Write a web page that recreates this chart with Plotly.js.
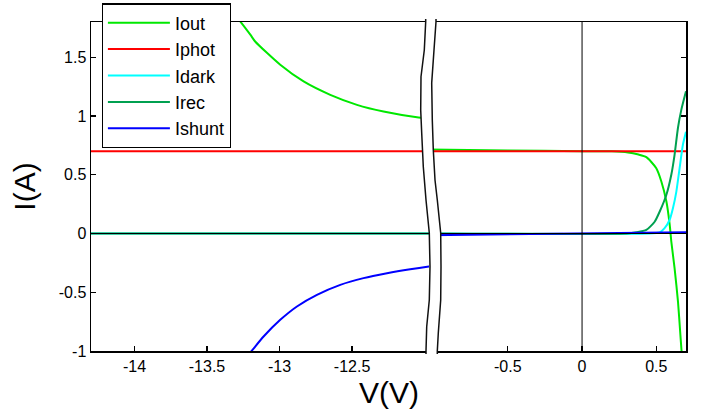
<!DOCTYPE html>
<html>
<head>
<meta charset="utf-8">
<script src="https://cdn.plot.ly/plotly-3.0.1.min.js"></script>
<style>html,body{margin:0;padding:0;background:#fff;}#chart{width:704px;height:413px;}</style>
</head>
<body>
<div id="chart"></div>
<script>
// ---- data ----
// left panel: strongly reverse-biased region
const vL_flat   = [-14.3, -11.93];
const iphotL    = [0.7, 0.7];
const idarkL    = [0, 0];
const irecL     = [0, 0];
const vL_out    = [-13.28, -13.20, -13.168, -12.995, -12.834, -12.650, -12.466, -12.283, -12.041, -11.93];
const ioutL     = [1.82, 1.69, 1.634, 1.436, 1.294, 1.180, 1.095, 1.038, 0.987, 0.975];
const vL_shunt  = [-13.23, -13.20, -13.11, -12.995, -12.88, -12.742, -12.581, -12.421, -12.259, -12.099, -11.97, -11.93];
const ishuntL   = [-1.05, -1.01, -0.877, -0.735, -0.621, -0.522, -0.437, -0.380, -0.338, -0.304, -0.281, -0.275];

// right panel: around the operating region
const vR_phot   = [-1.03, 0.7];
const iphotR    = [0.7, 0.7];
const vR_out    = [-1.03, -0.5, 0, 0.2, 0.309, 0.38, 0.433, 0.50, 0.534, 0.568, 0.59, 0.601, 0.623, 0.646, 0.662, 0.67, 0.675];
const ioutR     = [0.715, 0.707, 0.70, 0.699, 0.69, 0.672, 0.650, 0.556, 0.443, 0.272, 0.077, -0.068, -0.295, -0.579, -0.86, -1.0, -1.08];
const vR_dark   = [-1.03, 0.45, 0.523, 0.556, 0.590, 0.612, 0.635, 0.657, 0.679, 0.70];
const idarkR    = [0, 0, 0.01, 0.045, 0.117, 0.215, 0.357, 0.556, 0.755, 0.865];
const vR_rec    = [-1.03, 0.30, 0.366, 0.433, 0.489, 0.523, 0.568, 0.601, 0.623, 0.646, 0.668, 0.70];
const irecR     = [0, 0, 0.01, 0.03, 0.10, 0.187, 0.33, 0.50, 0.67, 0.90, 1.05, 1.21];
const vR_shunt  = [-1.03, 0, 0.7];
const ishuntR   = [-0.015, 0, 0.01];

// tick labels
const yTicks    = [-1, -0.5, 0, 0.5, 1, 1.5];
const xTicksL   = [-14, -13.5, -13, -12.5];
const xTicksR   = [-0.5, 0, 0.5];

const names  = ['Iout', 'Iphot', 'Idark', 'Irec', 'Ishunt'];
const colors = {Iout:'#00e800', Iphot:'#ff0000', Idark:'#00ffff', Irec:'#00a050', Ishunt:'#0000ff'};

function tr(name, x, y, xa, ya, show) {
  return {type:'scatter', mode:'lines', name:name, x:x, y:y, xaxis:xa, yaxis:ya,
          legendgroup:name, showlegend:show,
          line:{color:colors[name], width:2, shape:(x.length > 3 ? 'spline' : 'linear'), smoothing:0.6},
          hoverinfo:'skip'};
}
const traces = [
  tr('Iout',   vL_out,   ioutL,   'x', 'y', true),
  tr('Iphot',  vL_flat,  iphotL,  'x', 'y', true),
  tr('Idark',  vL_flat,  idarkL,  'x', 'y', true),
  tr('Irec',   vL_flat,  irecL,   'x', 'y', true),
  tr('Ishunt', vL_shunt, ishuntL, 'x', 'y', true),
  tr('Iout',   vR_out,   ioutR,   'x2', 'y2', false),
  tr('Iphot',  vR_phot,  iphotR,  'x2', 'y2', false),
  tr('Idark',  vR_dark,  idarkR,  'x2', 'y2', false),
  tr('Irec',   vR_rec,   irecR,   'x2', 'y2', false),
  tr('Ishunt', vR_shunt, ishuntR, 'x2', 'y2', false)
];

// ---- layout ----
const M = {l:91, r:18, t:22, b:62, autoexpand:false};
const W = 704 - M.l - M.r, H = 413 - M.t - M.b;
const px = x => (x - M.l) / W;
const py = y => (413 - M.b - y) / H;

// wavy break lines (pixel positions of the decoration)
const breakLeft  = [[425.7,19],[425.7,21.7],[424.3,50],[421,76.7],[420.7,110],[421.7,133],[423.3,166.7],[426,200],[429.3,233],[430,266.7],[429.3,300],[426.7,326.7],[426,351],[426,354]];
const breakRight = [[436,19],[436,21.7],[434,50],[431.7,83],[432.3,120],[433.3,150],[435,180],[437.3,200],[440.7,233],[441,266.7],[440.7,300],[438.3,333],[437.3,351],[437.3,354]];
const toPath = pts => pts.map((p,i)=>(i?'L':'M')+px(p[0]).toFixed(5)+','+py(p[1]).toFixed(5)).join(' ');
const fillPath = toPath(breakLeft.concat(breakRight.slice().reverse())) + ' Z';

const axisFont = {family:'Liberation Sans, Arial, sans-serif', size:16, color:'#000'};
const titleFont = {family:'Liberation Sans, Arial, sans-serif', size:30, color:'#000'};

const layout = {
  width:704, height:413,
  margin:M,
  paper_bgcolor:'#fff', plot_bgcolor:'#fff',
  font:{family:'Liberation Sans, Arial, sans-serif', color:'#000'},
  showlegend:true,
  legend:{x:px(101.7), y:py(3.3), xanchor:'left', yanchor:'top', bgcolor:'#fff', bordercolor:'#000', borderwidth:1.2,
          font:{family:'Liberation Sans, Arial, sans-serif', size:18, color:'#000'}, itemwidth:62, traceorder:'normal'},
  xaxis:{domain:[0, px(434.7)], range:[-14.3, -11.93], anchor:'y', tickvals:xTicksL, ticktext:xTicksL.map(String),
         ticks:'inside', ticklen:5, tickwidth:1.2, tickcolor:'#000', showline:true, linecolor:'#000', linewidth:1.5, mirror:true,
         showgrid:false, zeroline:false, tickfont:axisFont, fixedrange:true, automargin:false},
  xaxis2:{domain:[px(429.1), 1], range:[-1.03, 0.7], anchor:'y2', tickvals:xTicksR, ticktext:xTicksR.map(String),
         ticks:'inside', ticklen:5, tickwidth:1.2, tickcolor:'#000', showline:true, linecolor:'#000', linewidth:1.5, mirror:true,
         showgrid:false, zeroline:false, tickfont:axisFont, fixedrange:true, automargin:false},
  yaxis:{range:[-1, 1.8], anchor:'x', tickvals:yTicks, ticktext:yTicks.map(String),
         ticks:'inside', ticklen:5, tickwidth:1.2, tickcolor:'#000', showline:true, linecolor:'#000', linewidth:1.5,
         showgrid:false, zeroline:false, tickfont:axisFont, fixedrange:true, automargin:false,
         title:{text:'I(A)', font:titleFont, standoff:14}},
  yaxis2:{matches:'y', range:[-1, 1.8], anchor:'x2', side:'right', tickvals:yTicks, showticklabels:false,
         ticks:'inside', ticklen:5, tickwidth:1.2, tickcolor:'#000', showline:true, linecolor:'#000', linewidth:1.5,
         showgrid:false, zeroline:false, fixedrange:true, automargin:false},
  annotations:[
    {text:'V(V)', xref:'paper', yref:'paper', x:px(388.5), y:py(392.5), xanchor:'center', yanchor:'middle',
     showarrow:false, font:titleFont}
  ],
  shapes:[
    {type:'line', xref:'x domain', yref:'y', x0:0, x1:1, y0:0, y1:0, line:{color:'#000', width:1}, layer:'above'},
    {type:'line', xref:'x2 domain', yref:'y2', x0:0, x1:1, y0:0, y1:0, line:{color:'#000', width:1}, layer:'above'},
    {type:'line', xref:'x2', yref:'y2 domain', x0:0, x1:0, y0:0, y1:1, line:{color:'#000', width:1}, layer:'above'},
    {type:'path', xref:'paper', yref:'paper', path:fillPath, fillcolor:'#fff', line:{width:0}, layer:'above'},
    {type:'path', xref:'paper', yref:'paper', path:toPath(breakLeft), line:{color:'#111', width:1.5}, layer:'above'},
    {type:'path', xref:'paper', yref:'paper', path:toPath(breakRight), line:{color:'#111', width:1.5}, layer:'above'}
  ]
};

Plotly.newPlot('chart', traces, layout, {staticPlot:true, displayModeBar:false});
</script>
</body>
</html>
